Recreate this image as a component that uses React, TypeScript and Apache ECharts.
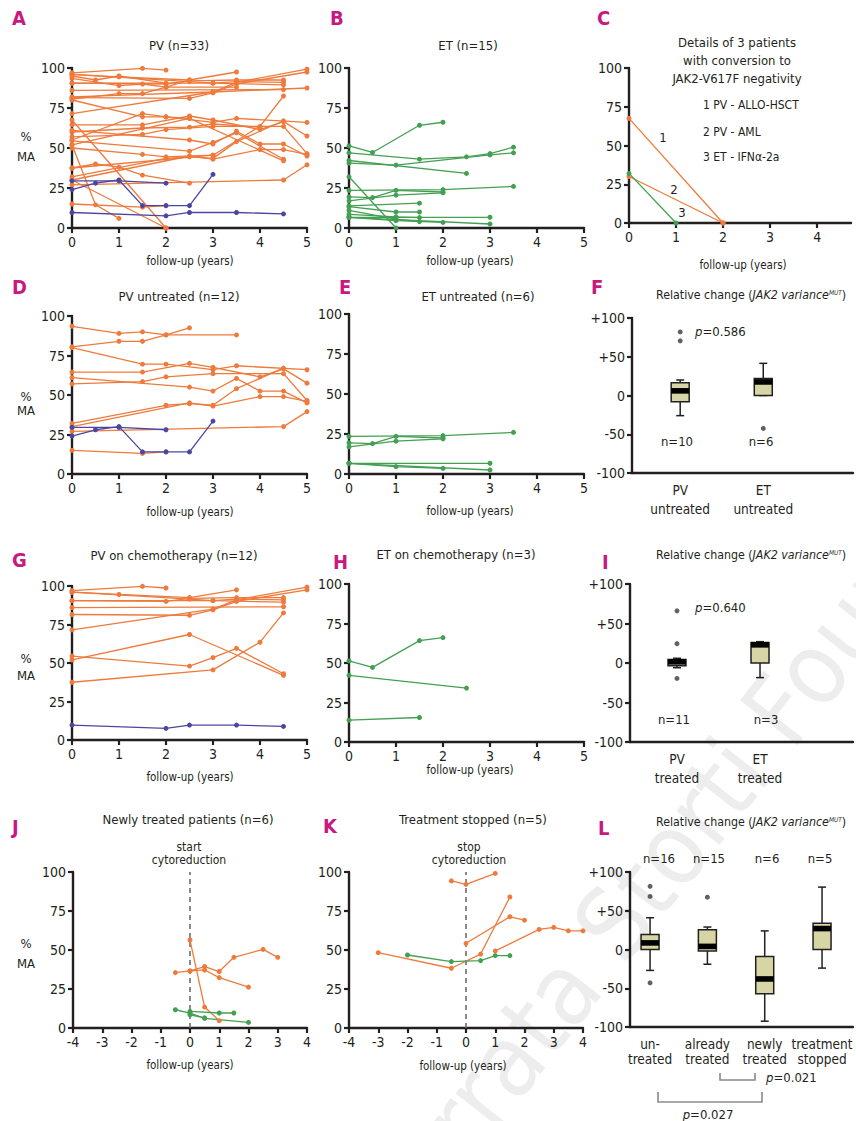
import React, { useEffect, useRef } from "react";
import * as echarts from "echarts";

type Pt = [number, number];

const FONT = "'DejaVu Sans Condensed', 'Liberation Sans Narrow', 'Roboto Condensed', 'DejaVu Sans', sans-serif";
const ORANGE = "#ee7a3c";
const BLUE = "#4b47a0";
const GREEN = "#43a052";
const INK = "#231f20";
const MAGENTA = "#c8197f";
const BOXFILL = "#d7d5a5";

// ---------------- tick labels ----------------
const yearTicks = [0, 1, 2, 3, 4, 5];
const yearTicksC = [0, 1, 2, 3, 4];
const shiftTicks = [-4, -3, -2, -1, 0, 1, 2, 3, 4];
const percentTicks = [0, 25, 50, 75, 100];
const relativeTicks = [-100, -50, 0, 50, 100];

// ---------------- PV patients ----------------
const pvUntreatedOrange: Pt[][] = [
  [[0, 93.5], [1, 89], [1.5, 90], [2, 88], [3.5, 88]],
  [[0, 80.5], [1, 84], [1.5, 84], [2, 88], [2.5, 92.5]],
  [[0, 80], [1.5, 69.5], [2, 69.5], [3, 66], [3.5, 68.5], [5, 66]],
  [[0, 64.5], [1.5, 64.5], [2.5, 70], [3, 67.5], [4, 61.5], [4.5, 66.5], [5, 57.5]],
  [[0, 61], [2.5, 55], [3, 52.5], [3.5, 60.5], [4, 52.5], [4.5, 52.5], [5, 45]],
  [[0, 57], [1.5, 58.5], [2, 61.5], [3, 63.5], [4.5, 63.5], [5, 46.5]],
  [[0, 32], [2, 43.5], [2.5, 44.5], [3, 43.5], [3.5, 54], [4.5, 67]],
  [[0, 30], [2.5, 45], [3, 43], [4, 49], [4.5, 49], [5, 46]],
  [[0, 27], [4.5, 30], [5, 39.5]],
  [[0, 15], [1.5, 13], [2, 14]],
];
const pvUntreatedBlue: Pt[][] = [
  [[0, 24], [0.5, 28], [1, 30], [1.5, 14], [2, 14], [2.5, 14], [3, 33.5]],
  [[0, 29.5], [1, 29.5], [2, 28]],
];
const pvChemoOrange: Pt[][] = [
  [[0, 97], [1.5, 99.8], [2, 98.7]],
  [[0, 96], [1, 94.5], [2.5, 92.5], [3.5, 97.5]],
  [[0, 96], [2.5, 91.5], [3, 90.5], [3.5, 91.5], [4.5, 91]],
  [[0, 90.5], [2, 90], [2.5, 92], [3.5, 92.5], [4.5, 92.5]],
  [[0, 86], [4.5, 86.5]],
  [[0, 81.5], [2.5, 81], [3, 84.5], [3.5, 90], [5, 97.5]],
  [[0, 71.5], [3, 85], [3.5, 91], [5, 99.3]],
  [[0, 54.5], [2.5, 48], [3, 53.5], [3.5, 59.5], [4.5, 43]],
  [[0, 52], [2.5, 68.5], [4.5, 42]],
  [[0, 37.5], [3, 45.5], [4, 63.5], [4.5, 82.5]],
  [[0, 90.5], [3, 90.5], [4.5, 89.5]],
];
const pvChemoBlue: Pt[][] = [
  [[0, 9.7], [2, 7.6], [2.5, 9.7], [3.5, 9.7], [4.5, 8.8]],
];
const pvOtherOrange: Pt[][] = [
  [[0, 52], [0.5, 14.5], [1, 6]],
  [[0, 37.5], [0.5, 40], [1, 38], [1.5, 33], [2.5, 28]],
  [[0, 82], [3, 85], [5, 87.5]],
  [[0, 50], [1.5, 46], [2, 44.5], [3, 45.5]],
  [[0, 55], [1.5, 71.5], [2, 69.5], [2.5, 68.5]],
  [[0, 60], [1.5, 62.5], [2.5, 63], [3, 65], [4, 63]],
  [[0, 95], [0.5, 92.5], [1, 95], [2, 90.5]],
];
// conversion to JAK2-V617F negativity (panel C)
const conversionPV: Pt[][] = [
  [[0, 67.5], [2, 0]],
  [[0, 30], [2, 0]],
];
const conversionET: Pt[][] = [
  [[0, 32], [1, 0]],
];

// ---------------- ET patients ----------------
const etUntreated: Pt[][] = [
  [[0, 23.5], [2, 24], [3.5, 26]],
  [[0, 19.5], [0.5, 19], [1, 23.5], [2, 22.5]],
  [[0, 17], [1, 20.5], [2, 22]],
  [[0, 6.7], [3, 6.7]],
  [[0, 6.7], [1, 4.6], [2, 3.5]],
  [[0, 6.7], [3, 2.5]],
];
const etChemo: Pt[][] = [
  [[0, 51.3], [0.5, 47.2], [1.5, 64.2], [2, 66.1]],
  [[0, 42.2], [2.5, 34.1]],
  [[0, 13.8], [1.5, 15.5]],
];
const etOther: Pt[][] = [
  [[0, 47], [1.5, 43], [2.5, 44.5], [3, 46.5], [3.5, 50.5]],
  [[0, 40.5], [1, 39.3], [3, 45.7], [3.5, 47]],
  [[0, 13.3], [1, 10], [1.5, 10]],
  [[0, 11], [1, 5.5], [1.5, 4]],
  [[0, 8.5], [1, 7], [1.5, 6.5]],
];

// ---------------- newly treated / stopped ----------------
const newlyTreatedPV: Pt[][] = [
  [[0, 56.4], [0.5, 13.4], [1, 4.7]],
  [[-0.5, 35.5], [0, 36.6], [0.5, 39.4], [1, 36.2], [1.5, 45.3], [2.5, 50.4], [3, 45.3]],
  [[0, 36.6], [0.5, 37.2], [1, 32.3], [2, 26.2]],
];
const newlyTreatedET: Pt[][] = [
  [[-0.5, 11.7], [0, 9.6], [0.5, 6.2], [2, 3.6]],
  [[0, 10.6], [1, 9.6], [1.5, 9.6]],
  [[0, 8.5], [0.5, 6.5]],
];
const stoppedPV: Pt[][] = [
  [[-3, 48.3], [-0.5, 38.3], [0.5, 47.4], [1.5, 84]],
  [[-0.5, 94.3], [0, 92.1], [1, 99.1]],
  [[0, 54.3], [1.5, 71.3], [2, 69.1]],
  [[1, 49.4], [2.5, 63.2], [3, 64.5], [3.5, 62.3], [4, 62.3]],
];
const stoppedET: Pt[][] = [
  [[-2, 46.8], [-0.5, 42.6], [0.5, 43.2], [1, 46.4], [1.5, 46.4]],
];
const cytoreductionMark: Pt[] = [[0, 0], [0, 100]];

// ---------------- relative change box plots ----------------
// [min, q1, median, q3, max]
const untreatedCats = ["PV\nuntreated", "ET\nuntreated"];
const untreatedStats = [
  [-26, -8, 6, 16.5, 20],
  [0, 0, 17.5, 22, 41.5],
];
const untreatedOutliers: Pt[] = [[0, 82], [0, 70.5], [1, -42.5]];
const untreatedN = ["n=10", "n=6"];

const treatedCats = ["PV\ntreated", "ET\ntreated"];
const treatedStats = [
  [-6, -3.5, 1.5, 4.5, 6],
  [-18.5, 0, 23, 26, 27],
];
const treatedOutliers: Pt[] = [[0, 66], [0, 24.5], [0, -19.5]];
const treatedN = ["n=11", "n=3"];

const groupCats = ["un-\ntreated", "already\ntreated", "newly\ntreated", "treatment\nstopped"];
const groupStats = [
  [-27, 0, 8.5, 19.5, 41],
  [-19, -2, 4, 25.5, 29],
  [-92.5, -57, -38, -9, 24],
  [-24, 0, 27, 34, 80.5],
];
const groupOutliers: Pt[] = [[0, 81.5], [0, 68.5], [0, -43], [1, 67.5]];
const groupN = ["n=16", "n=15", "n=6", "n=5"];

// ---------------- option builder ----------------
function buildOption() {
  const grids = [
    { left: 72, top: 68, width: 235, height: 160 }, // A 0
    { left: 349, top: 68, width: 235, height: 160 }, // B 1
    { left: 629, top: 68, width: 222, height: 155 }, // C 2
    { left: 72, top: 316, width: 235, height: 158 }, // D 3
    { left: 349, top: 314, width: 235, height: 160 }, // E 4
    { left: 632, top: 318, width: 221, height: 155 }, // F 5
    { left: 72, top: 586, width: 235, height: 154 }, // G 6
    { left: 349, top: 584, width: 235, height: 158 }, // H 7
    { left: 630, top: 584, width: 223, height: 158 }, // I 8
    { left: 73, top: 872, width: 234, height: 156 }, // J 9
    { left: 349, top: 872, width: 234, height: 156 }, // K 10
    { left: 630, top: 872, width: 223, height: 155 }, // L 11
  ];

  const axisLine = { show: true, onZero: false, lineStyle: { color: INK, width: 2.4 } };
  const tick = (vals: number[]) => ({ show: true, length: 5, lineStyle: { color: INK, width: 2.2 }, customValues: vals });
  const lab = (vals: number[], extra: any = {}) => ({
    customValues: vals, fontFamily: FONT, fontSize: 14, color: INK, margin: 7, ...extra,
  });
  const valX = (gi: number, min: number, max: number, ticks: number[]) => ({
    type: "value", gridIndex: gi, min, max, axisLine, axisTick: tick(ticks), axisLabel: lab(ticks),
    splitLine: { show: false },
  });
  const boxX = (gi: number, min: number, max: number, cats: string[], lh: number, margin: number) => {
    const idx = cats.map((_, i) => i);
    return {
      type: "value", gridIndex: gi, min, max, axisLine, axisTick: { show: false },
      axisLabel: lab(idx, { fontSize: 13.5, lineHeight: lh, margin, formatter: (v: number) => cats[Math.round(v)] ?? "" }),
      splitLine: { show: false },
    };
  };
  const pctY = (gi: number) => ({
    type: "value", gridIndex: gi, min: 0, max: 100, axisLine, axisTick: tick(percentTicks),
    axisLabel: lab(percentTicks), splitLine: { show: false },
  });
  const relY = (gi: number) => ({
    type: "value", gridIndex: gi, min: -100, max: 100, axisLine, axisTick: tick(relativeTicks),
    axisLabel: lab(relativeTicks, { formatter: (v: number) => (v > 0 ? "+" + v : String(v)) }),
    splitLine: { show: false },
  });

  const xAxis = [
    valX(0, 0, 5, yearTicks),
    valX(1, 0, 5, yearTicks),
    valX(2, 0, 4.72, yearTicksC),
    valX(3, 0, 5, yearTicks),
    valX(4, 0, 5, yearTicks),
    boxX(5, -0.58, 2.08, untreatedCats, 19, 7),
    valX(6, 0, 5, yearTicks),
    valX(7, 0, 5, yearTicks),
    boxX(8, -0.566, 2.12, treatedCats, 19, 7),
    valX(9, -4, 4, shiftTicks),
    valX(10, -4, 4, shiftTicks),
    boxX(11, -0.35, 3.54, groupCats, 14.5, 10),
  ];
  const yAxis = [
    pctY(0), pctY(1), pctY(2), pctY(3), pctY(4), relY(5),
    pctY(6), pctY(7), relY(8), pctY(9), pctY(10), relY(11),
  ];

  const series: any[] = [];
  const addLines = (lines: Pt[][], color: string, gi: number) => {
    lines.forEach((pts) =>
      series.push({
        type: "line", xAxisIndex: gi, yAxisIndex: gi, data: pts, symbol: "circle", symbolSize: 5,
        showSymbol: true, lineStyle: { color, width: 1.3 }, itemStyle: { color }, silent: true, z: 3,
      })
    );
  };
  const addMark = (gi: number) =>
    series.push({
      type: "line", xAxisIndex: gi, yAxisIndex: gi, data: cytoreductionMark, showSymbol: false, symbol: "none",
      lineStyle: { color: "#6d6d6d", width: 1.6, type: [5, 4] }, silent: true, z: 2,
    });
  const addBoxes = (stats: number[][], outliers: Pt[], gi: number) => {
    series.push({
      type: "custom", xAxisIndex: gi, yAxisIndex: gi, silent: true, z: 3,
      data: stats.map((s, i) => [i, ...s]),
      encode: { x: 0, y: [1, 2, 3, 4, 5] },
      renderItem: (_p: any, api: any) => {
        const x = api.value(0);
        const lo = api.coord([x, api.value(1)]);
        const q1 = api.coord([x, api.value(2)]);
        const med = api.coord([x, api.value(3)]);
        const q3 = api.coord([x, api.value(4)]);
        const hi = api.coord([x, api.value(5)]);
        const cx = lo[0];
        const w = 18;
        const ls = { stroke: INK, lineWidth: 1.5 };
        return {
          type: "group",
          children: [
            { type: "line", shape: { x1: cx, y1: hi[1], x2: cx, y2: q3[1] }, style: ls },
            { type: "line", shape: { x1: cx, y1: q1[1], x2: cx, y2: lo[1] }, style: ls },
            { type: "line", shape: { x1: cx - 4, y1: hi[1], x2: cx + 4, y2: hi[1] }, style: ls },
            { type: "line", shape: { x1: cx - 4, y1: lo[1], x2: cx + 4, y2: lo[1] }, style: ls },
            {
              type: "rect", shape: { x: cx - w / 2, y: q3[1], width: w, height: Math.max(q1[1] - q3[1], 1) },
              style: { fill: BOXFILL, stroke: INK, lineWidth: 1.5 },
            },
            { type: "rect", shape: { x: cx - w / 2, y: med[1] - 2.8, width: w, height: 5.6 }, style: { fill: "#000" } },
          ],
        };
      },
    });
    series.push({
      type: "scatter", xAxisIndex: gi, yAxisIndex: gi, data: outliers, symbolSize: 5,
      itemStyle: { color: "#3a3a3a" }, silent: true, z: 4,
    });
  };

  // A
  addLines([...pvUntreatedOrange, ...pvChemoOrange, ...conversionPV, ...pvOtherOrange], ORANGE, 0);
  addLines([...pvUntreatedBlue, ...pvChemoBlue], BLUE, 0);
  // B
  addLines([...etUntreated, ...etChemo, ...conversionET, ...etOther], GREEN, 1);
  // C
  addLines(conversionPV, ORANGE, 2);
  addLines(conversionET, GREEN, 2);
  // D
  addLines(pvUntreatedOrange, ORANGE, 3);
  addLines(pvUntreatedBlue, BLUE, 3);
  // E
  addLines(etUntreated, GREEN, 4);
  // F
  addBoxes(untreatedStats, untreatedOutliers, 5);
  // G
  addLines(pvChemoOrange, ORANGE, 6);
  addLines(pvChemoBlue, BLUE, 6);
  // H
  addLines(etChemo, GREEN, 7);
  // I
  addBoxes(treatedStats, treatedOutliers, 8);
  // J
  addMark(9);
  addLines(newlyTreatedPV, ORANGE, 9);
  addLines(newlyTreatedET, GREEN, 9);
  // K
  addMark(10);
  addLines(stoppedPV, ORANGE, 10);
  addLines(stoppedET, GREEN, 10);
  // L
  addBoxes(groupStats, groupOutliers, 11);

  // ---------------- texts ----------------
  const T = (x: number, y: number, text: string, o: any = {}) => ({
    type: "text", x, y, silent: true, z: 10,
    style: {
      text, fill: o.fill ?? INK, fontSize: o.size ?? 13, fontFamily: FONT,
      fontWeight: o.weight ?? "normal", fontStyle: o.fstyle ?? "normal",
      align: o.align ?? "center", textAlign: o.align ?? "center",
      verticalAlign: "middle", textVerticalAlign: "middle",
      lineHeight: o.lh ?? undefined, rich: o.rich ?? undefined,
    },
  });
  const letter = (x: number, y: number, s: string) =>
    T(x, y, s, { size: 20, weight: "bold", fill: MAGENTA, align: "left" });
  const richStyles = {
    n: { fontSize: 13, fontFamily: FONT, fill: INK, color: INK },
    i: { fontSize: 13, fontFamily: FONT, fontStyle: "italic", fill: INK, color: INK },
    s: { fontSize: 7, fontFamily: FONT, fontStyle: "italic", fill: INK, color: INK, verticalAlign: "top" },
  };
  const titleRich = {
    n: { fontSize: 12.3, fontFamily: FONT, fill: INK, color: INK },
    i: { fontSize: 12.3, fontFamily: FONT, fontStyle: "italic", fill: INK, color: INK },
    s: { fontSize: 6.5, fontFamily: FONT, fontStyle: "italic", fill: INK, color: INK, verticalAlign: "top" },
  };
  const relTitle = (y: number) =>
    T(656, y, "{n|Relative change (}{i|JAK2 variance}{s|MUT}{n|)}", { align: "left", rich: titleRich });
  const pText = (x: number, y: number, v: string, align = "left") =>
    T(x, y, "{i|p}{n|=" + v + "}", { align, rich: richStyles });
  const followUp = (x: number, y: number) => T(x, y, "follow-up (years)", { size: 11.5 });
  const yName = (x: number, y1: number, y2: number) => [T(x, y1, "%"), T(x, y2, "MA")];
  const bracket = (pts: number[][]) => ({
    type: "polyline", silent: true, z: 10, shape: { points: pts },
    style: { stroke: "#8a8a8a", lineWidth: 1.6, fill: null },
  });

  const graphic: any[] = [
    {
      type: "text", x: 728, y: 778, rotation: (52 * Math.PI) / 180, silent: true, z: 0,
      style: {
        text: "Ferrata Storti Foundation", fill: "rgba(190,190,190,0.28)", fontSize: 100,
        fontFamily: FONT, align: "center", textAlign: "center", verticalAlign: "middle", textVerticalAlign: "middle",
      },
    },
    letter(12, 18, "A"), letter(330, 18, "B"), letter(597, 18, "C"),
    letter(12, 287, "D"), letter(339, 287, "E"), letter(591, 287, "F"),
    letter(12, 560, "G"), letter(333, 562, "H"), letter(602, 562, "I"),
    letter(12, 827, "J"), letter(323, 826, "K"), letter(598, 828, "L"),

    T(179, 45, "PV (n=33)"),
    T(468, 45, "ET (n=15)"),
    T(737, 42, "Details of 3 patients"),
    T(737, 60, "with conversion to"),
    T(737, 78, "JAK2-V617F negativity"),
    T(703, 105, "1 PV - ALLO-HSCT", { align: "left", size: 12 }),
    T(703, 132, "2 PV - AML", { align: "left", size: 12 }),
    T(703, 157, "3 ET - IFNα-2a", { align: "left", size: 12 }),
    T(663, 137, "1"), T(674, 189, "2"), T(682, 212, "3"),

    T(179, 296, "PV untreated (n=12)"),
    T(478, 296, "ET untreated (n=6)"),
    relTitle(295),
    pText(695, 331, "0.586"),
    T(677, 441, untreatedN[0]), T(761, 441, untreatedN[1]),

    T(174, 555, "PV on chemotherapy (n=12)"),
    T(456, 554, "ET on chemotherapy (n=3)"),
    relTitle(555),
    pText(695, 607, "0.640"),
    T(674, 719, treatedN[0]), T(766, 719, treatedN[1]),

    T(188, 819, "Newly treated patients (n=6)"),
    T(189, 847, "start", { size: 12 }), T(189, 860, "cytoreduction", { size: 12 }),
    T(473, 819, "Treatment stopped (n=5)"),
    T(469, 847, "stop", { size: 12 }), T(469, 860, "cytoreduction", { size: 12 }),
    relTitle(822),
    T(659, 858, groupN[0]), T(709, 858, groupN[1]), T(767, 858, groupN[2]), T(820, 858, groupN[3]),
    bracket([[720, 1073], [720, 1080], [755, 1080], [755, 1073]]),
    bracket([[658, 1092], [658, 1102], [762, 1102], [762, 1092]]),
    pText(766, 1077, "0.021"),
    pText(708, 1114, "0.027", "center"),

    followUp(190, 261), followUp(470, 261), followUp(743, 265),
    followUp(190, 512), followUp(470, 511),
    followUp(190, 777), followUp(470, 770),
    followUp(190, 1065), followUp(463, 1066),
    ...yName(26, 136, 156),
    ...yName(26, 396, 410),
    ...yName(26, 658, 675),
    ...yName(26, 943, 963),
  ];

  return {
    animation: false,
    backgroundColor: "#ffffff",
    grid: grids.map((g) => ({ ...g, containLabel: false })),
    xAxis,
    yAxis,
    series,
    graphic,
  };
}

export default function App() {
  const ref = useRef<HTMLDivElement>(null);
  useEffect(() => {
    if (!ref.current) return;
    const chart = echarts.init(ref.current, null, { renderer: "svg" });
    chart.setOption(buildOption() as any);
    return () => chart.dispose();
  }, []);
  return (
    <div
      ref={ref}
      style={{ position: "absolute", left: 0, top: 0, width: 856, height: 1121, background: "#fff" }}
    />
  );
}
